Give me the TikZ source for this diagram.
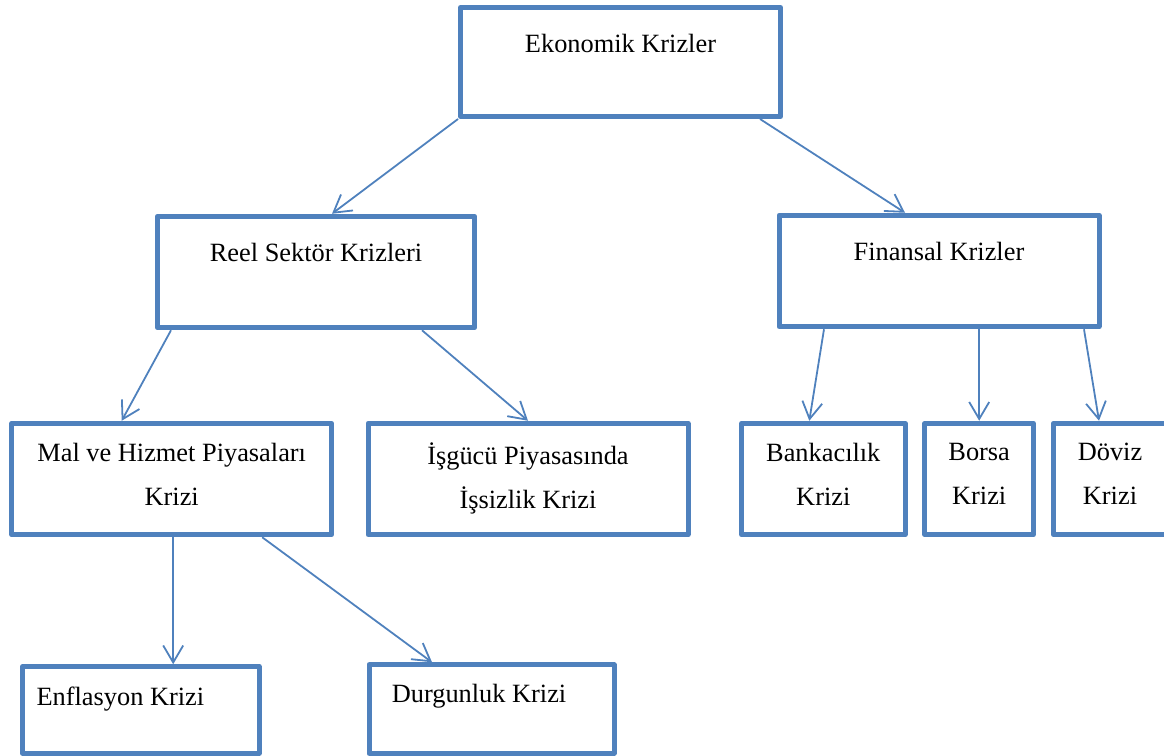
\documentclass[tikz,border=0pt]{standalone}
\usepackage{fontspec}
\setmainfont{Liberation Serif}
\usetikzlibrary{positioning,arrows.meta}
\definecolor{kutumavi}{RGB}{79,129,189}

\begin{document}
\begin{tikzpicture}[scale=1, font=\fontsize{15}{25}\selectfont, line join=round, >={Straight Barb[length=0.34cm,width=0.4cm]},
	kutu/.style={draw=kutumavi, line width=0.1cm, minimum height=2.23cm, inner sep=0pt},
	yazi/.style={inner sep=0pt, align=center},
	ok/.style={->, draw=kutumavi, line width=0.036cm}]
	\useasboundingbox (0,0) rectangle (23.28,-15.12);
	\node[kutu, minimum width=6.40cm, minimum height=2.18cm] (ek) at (12.41,-1.24) {};
	\node[kutu, minimum width=6.34cm] (reel) at (6.32,-5.44) {};
	\node[kutu, minimum width=6.40cm] (fin) at (18.78,-5.42) {};
	\node[kutu, minimum width=6.40cm] (mal) at (3.434,-9.58) {};
	\node[kutu, minimum width=6.40cm] (isg) at (10.56,-9.58) {};
	\node[kutu, minimum width=3.27cm] (bank) at (16.466,-9.58) {};
	\node[kutu, minimum width=2.17cm] (borsa) at (19.584,-9.58) {};
	\node[kutu, minimum width=2.26cm] (doviz) at (22.2,-9.58) {};
	\node[kutu, minimum width=4.73cm, minimum height=1.73cm] (enf) at (2.82,-14.2) {};
	\node[kutu, minimum width=4.90cm, minimum height=1.77cm] (durg) at (9.83,-14.18) {};

	\node[yazi, below=0.58cm of ek.north] (ekyazi) {Ekonomik Krizler};
	\node[yazi, below=0.58cm of reel.north] (reelyazi) {Reel Sektör Krizleri};
	\node[yazi, below=0.58cm of fin.north] (finyazi) {Finansal Krizler};
	\node[yazi, below=0.44cm of mal.north] (malyazi) {Mal ve Hizmet Piyasaları\\Krizi};
	\node[yazi, below=0.44cm of isg.north] (isgyazi) {İşgücü Piyasasında\\İşsizlik Krizi};
	\node[yazi, below=0.44cm of bank.north] (bankyazi) {Bankacılık\\Krizi};
	\node[yazi, below=0.44cm of borsa.north] (borsayazi) {Borsa\\Krizi};
	\node[yazi, below=0.44cm of doviz.north] (dovizyazi) {Döviz\\Krizi};
	\node[yazi, below right=0.44cm and 0.32cm of enf.north west] (enfyazi) {Enflasyon Krizi};
	\node[yazi, below right=0.44cm and 0.5cm of durg.north west] (durgyazi) {Durgunluk Krizi};

	\draw[ok] (ek.south west) -- ([xshift=0.32cm]reel.north);
	\draw[ok] ([xshift=-0.46cm]ek.south east) -- ([xshift=-0.68cm]fin.north);
	\draw[ok] ([xshift=0.32cm]reel.south west) -- ([xshift=-1.0cm]mal.north);
	\draw[ok] ([xshift=-1.1cm]reel.south east) -- (isg.north);
	\draw[ok] ([xshift=0.95cm]fin.south west) -- ([xshift=-0.28cm]bank.north);
	\draw[ok] (fin.south -| borsa.north) -- (borsa.north);
	\draw[ok] ([xshift=-0.35cm]fin.south east) -- ([xshift=-0.22cm]doviz.north);
	\draw[ok] ([xshift=0.03cm]mal.south) -- ([xshift=0.03cm]mal.south |- enf.north);
	\draw[ok] ([xshift=-1.44cm]mal.south east) -- ([xshift=-1.19cm]durg.north);
\end{tikzpicture}
\end{document}
